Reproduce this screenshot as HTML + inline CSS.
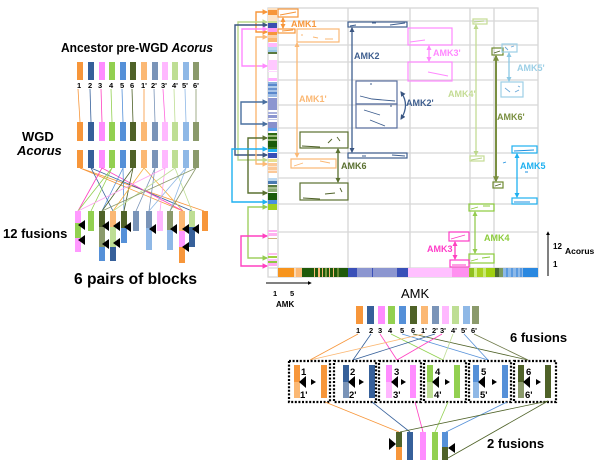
<!DOCTYPE html>
<html><head><meta charset="utf-8"><style>
html,body{margin:0;padding:0;background:#fff;}
svg{display:block;font-family:"Liberation Sans",Arial,sans-serif;}
</style></head><body>
<svg width="600" height="465" viewBox="0 0 600 465" xmlns="http://www.w3.org/2000/svg">
<defs>
<marker id="mO" viewBox="0 0 10 10" refX="8" refY="5" markerWidth="4" markerHeight="4" orient="auto-start-reverse"><path d="M0,0L10,5L0,10z" fill="#f7963a"/></marker>
<marker id="mLO" viewBox="0 0 10 10" refX="8" refY="5" markerWidth="4" markerHeight="4" orient="auto-start-reverse"><path d="M0,0L10,5L0,10z" fill="#fbb874"/></marker>
<marker id="mN" viewBox="0 0 10 10" refX="8" refY="5" markerWidth="4" markerHeight="4" orient="auto-start-reverse"><path d="M0,0L10,5L0,10z" fill="#3a5580"/></marker>
<marker id="mS" viewBox="0 0 10 10" refX="8" refY="5" markerWidth="4" markerHeight="4" orient="auto-start-reverse"><path d="M0,0L10,5L0,10z" fill="#4a70a0"/></marker>
<marker id="mP" viewBox="0 0 10 10" refX="8" refY="5" markerWidth="4" markerHeight="4" orient="auto-start-reverse"><path d="M0,0L10,5L0,10z" fill="#ff88ff"/></marker>
<marker id="mYG" viewBox="0 0 10 10" refX="8" refY="5" markerWidth="4" markerHeight="4" orient="auto-start-reverse"><path d="M0,0L10,5L0,10z" fill="#bcd88c"/></marker>
<marker id="mOl" viewBox="0 0 10 10" refX="8" refY="5" markerWidth="4" markerHeight="4" orient="auto-start-reverse"><path d="M0,0L10,5L0,10z" fill="#5a7030"/></marker>
<marker id="mOl2" viewBox="0 0 10 10" refX="8" refY="5" markerWidth="3" markerHeight="3" orient="auto-start-reverse"><path d="M0,0L10,5L0,10z" fill="#7a8f40"/></marker>
<marker id="mC" viewBox="0 0 10 10" refX="8" refY="5" markerWidth="4" markerHeight="4" orient="auto-start-reverse"><path d="M0,0L10,5L0,10z" fill="#1eb0f0"/></marker>
<marker id="mLB" viewBox="0 0 10 10" refX="8" refY="5" markerWidth="4" markerHeight="4" orient="auto-start-reverse"><path d="M0,0L10,5L0,10z" fill="#8cc8e4"/></marker>
<marker id="mG" viewBox="0 0 10 10" refX="8" refY="5" markerWidth="4" markerHeight="4" orient="auto-start-reverse"><path d="M0,0L10,5L0,10z" fill="#94cc50"/></marker>
<marker id="mM" viewBox="0 0 10 10" refX="8" refY="5" markerWidth="4" markerHeight="4" orient="auto-start-reverse"><path d="M0,0L10,5L0,10z" fill="#ff40c0"/></marker>
<marker id="mK" viewBox="0 0 10 10" refX="8" refY="5" markerWidth="4" markerHeight="4" orient="auto-start-reverse"><path d="M0,0L10,5L0,10z" fill="#000"/></marker>
</defs>

<!-- ================= LEFT PANEL ================= -->
<text x="61" y="52" font-size="12.5" font-weight="bold" textLength="152" lengthAdjust="spacingAndGlyphs">Ancestor pre-WGD <tspan font-style="italic">Acorus</tspan></text>

<!-- row 1 -->
<g>
<rect x="77" y="62" width="6" height="18" fill="#f7963a"/>
<rect x="88" y="62" width="6" height="18" fill="#36609a"/>
<rect x="99" y="62" width="6" height="18" fill="#ff8cff"/>
<rect x="109" y="62" width="6" height="18" fill="#92d050"/>
<rect x="120" y="62" width="6" height="18" fill="#5590d8"/>
<rect x="130" y="62" width="6" height="18" fill="#4f6228"/>
<rect x="141" y="62" width="6" height="18" fill="#fbb874"/>
<rect x="152" y="62" width="6" height="18" fill="#7a94b8"/>
<rect x="162" y="62" width="6" height="18" fill="#ffb8ff"/>
<rect x="172" y="62" width="6" height="18" fill="#bede94"/>
<rect x="183" y="62" width="6" height="18" fill="#8fb8e6"/>
<rect x="193" y="62" width="6" height="18" fill="#8b9a6b"/>
</g>
<g font-size="7.5" font-weight="bold">
<text x="77" y="88">1</text><text x="88" y="88">2</text><text x="98" y="88">3</text><text x="109" y="88">4</text><text x="120" y="88">5</text><text x="130" y="88">6</text><text x="141" y="88">1'</text><text x="151" y="88">2'</text><text x="161" y="88">3'</text><text x="172" y="88">4'</text><text x="182" y="88">5'</text><text x="193" y="88">6'</text>
</g>
<g stroke-width="0.8">
<line x1="78" y1="89" x2="80" y2="122" stroke="#f7963a"/>
<line x1="90" y1="89" x2="91" y2="122" stroke="#36609a"/>
<line x1="101" y1="89" x2="102" y2="122" stroke="#ff40c0"/>
<line x1="111" y1="89" x2="112" y2="122" stroke="#92d050"/>
<line x1="122" y1="89" x2="123" y2="122" stroke="#5590d8"/>
<line x1="132" y1="89" x2="133" y2="122" stroke="#4f6228"/>
<line x1="144" y1="89" x2="144" y2="122" stroke="#f7963a"/>
<line x1="154" y1="89" x2="155" y2="122" stroke="#7a94b8"/>
<line x1="163" y1="89" x2="165" y2="122" stroke="#ff66dd"/>
<line x1="174" y1="89" x2="175" y2="122" stroke="#bede94"/>
<line x1="185" y1="89" x2="186" y2="122" stroke="#8fb8e6"/>
<line x1="196" y1="89" x2="196" y2="122" stroke="#8b9a6b"/>
</g>

<!-- row 2 -->
<g>
<rect x="77" y="122" width="6" height="19" fill="#f7963a"/>
<rect x="88" y="122" width="6" height="19" fill="#36609a"/>
<rect x="99" y="122" width="6" height="19" fill="#ff8cff"/>
<rect x="109" y="122" width="6" height="19" fill="#92d050"/>
<rect x="120" y="122" width="6" height="19" fill="#5590d8"/>
<rect x="130" y="122" width="6" height="19" fill="#4f6228"/>
<rect x="141" y="122" width="6" height="19" fill="#fbb874"/>
<rect x="152" y="122" width="6" height="19" fill="#7a94b8"/>
<rect x="162" y="122" width="6" height="19" fill="#ffb8ff"/>
<rect x="172" y="122" width="6" height="19" fill="#bede94"/>
<rect x="183" y="122" width="6" height="19" fill="#8fb8e6"/>
<rect x="193" y="122" width="6" height="19" fill="#8b9a6b"/>
</g>
<text x="22" y="141" font-size="13" font-weight="bold">WGD</text>
<text x="17" y="155" font-size="13" font-weight="bold" font-style="italic">Acorus</text>

<!-- row 3 -->
<g>
<rect x="77" y="150" width="6" height="18" fill="#f7963a"/>
<rect x="88" y="150" width="6" height="18" fill="#36609a"/>
<rect x="99" y="150" width="6" height="18" fill="#ff8cff"/>
<rect x="109" y="150" width="6" height="18" fill="#92d050"/>
<rect x="120" y="150" width="6" height="18" fill="#5590d8"/>
<rect x="130" y="150" width="6" height="18" fill="#4f6228"/>
<rect x="141" y="150" width="6" height="18" fill="#fbb874"/>
<rect x="152" y="150" width="6" height="18" fill="#7a94b8"/>
<rect x="162" y="150" width="6" height="18" fill="#ffb8ff"/>
<rect x="172" y="150" width="6" height="18" fill="#bede94"/>
<rect x="183" y="150" width="6" height="18" fill="#8fb8e6"/>
<rect x="193" y="150" width="6" height="18" fill="#8b9a6b"/>
</g>

<!-- crossing lines row3 -> row4 -->
<g stroke-width="0.8">
<line x1="80" y1="168" x2="204" y2="211" stroke="#f7963a"/>
<line x1="80" y1="168" x2="183" y2="211" stroke="#f7963a"/>
<line x1="91" y1="168" x2="192" y2="211" stroke="#36609a"/>
<line x1="91" y1="168" x2="113" y2="211" stroke="#36609a"/>
<line x1="102" y1="168" x2="78" y2="211" stroke="#ff40c0"/>
<line x1="102" y1="168" x2="183" y2="211" stroke="#ff40c0"/>
<line x1="112" y1="168" x2="78" y2="211" stroke="#92d050"/>
<line x1="112" y1="168" x2="91" y2="211" stroke="#92d050"/>
<line x1="123" y1="168" x2="102" y2="211" stroke="#5590d8"/>
<line x1="123" y1="168" x2="124" y2="211" stroke="#5590d8"/>
<line x1="133" y1="168" x2="102" y2="211" stroke="#4f6228"/>
<line x1="133" y1="168" x2="124" y2="211" stroke="#4f6228"/>
<line x1="144" y1="168" x2="113" y2="211" stroke="#f7b040"/>
<line x1="144" y1="168" x2="183" y2="211" stroke="#f7b040"/>
<line x1="155" y1="168" x2="136" y2="211" stroke="#7a94b8"/>
<line x1="155" y1="168" x2="149" y2="211" stroke="#7a94b8"/>
<line x1="165" y1="168" x2="160" y2="211" stroke="#ffa0f0"/>
<line x1="165" y1="168" x2="78" y2="211" stroke="#ffa0f0"/>
<line x1="175" y1="168" x2="113" y2="211" stroke="#bede94"/>
<line x1="175" y1="168" x2="192" y2="211" stroke="#bede94"/>
<line x1="186" y1="168" x2="149" y2="211" stroke="#8fb8e6"/>
<line x1="186" y1="168" x2="170" y2="211" stroke="#8fb8e6"/>
<line x1="196" y1="168" x2="170" y2="211" stroke="#8b9a6b"/>
<line x1="196" y1="168" x2="102" y2="211" stroke="#8b9a6b"/>
</g>

<!-- row 4 (12 fusions) -->
<g>
<rect x="75" y="211" width="6" height="12" fill="#ff99ff"/><rect x="75" y="223" width="6" height="15" fill="#92d050"/><rect x="75" y="238" width="6" height="14" fill="#ff99ff"/>
<rect x="88" y="211" width="6" height="20" fill="#92d050"/>
<rect x="99" y="211" width="6" height="16" fill="#4f6228"/><rect x="99" y="227" width="6" height="20" fill="#8b9a6b"/><rect x="99" y="247" width="6" height="14" fill="#5590d8"/>
<rect x="110" y="211" width="6" height="16" fill="#fbb874"/><rect x="110" y="227" width="6" height="20" fill="#bede94"/><rect x="110" y="247" width="6" height="14" fill="#36609a"/>
<rect x="121" y="211" width="6" height="17" fill="#4f6228"/><rect x="121" y="228" width="6" height="15" fill="#5590d8"/>
<rect x="133" y="211" width="6" height="20" fill="#7a94b8"/>
<rect x="146" y="211" width="6" height="17" fill="#7a94b8"/><rect x="146" y="228" width="6" height="22" fill="#8fb8e6"/>
<rect x="157" y="211" width="6" height="20" fill="#ffb8ff"/>
<rect x="167" y="211" width="6" height="19" fill="#8b9a6b"/><rect x="167" y="230" width="6" height="20" fill="#8fb8e6"/>
<rect x="179" y="211" width="6" height="20" fill="#fbb874"/><rect x="179" y="231" width="6" height="16" fill="#ff99ff"/><rect x="179" y="247" width="6" height="16" fill="#f7963a"/>
<rect x="189" y="211" width="6" height="16" fill="#bede94"/><rect x="189" y="227" width="6" height="20" fill="#36609a"/>
<rect x="202" y="211" width="6" height="20" fill="#f7963a"/>
</g>
<g fill="#000">
<polygon points="78,225 85,220 85,230"/><polygon points="78,240 85,235 85,245"/>
<polygon points="102,226 109,221 109,231"/><polygon points="102,244 109,239 109,249"/>
<polygon points="113,226 120,221 120,231"/><polygon points="113,243 120,238 120,248"/>
<polygon points="124,227 131,222 131,232"/>
<polygon points="149,229 156,224 156,234"/>
<polygon points="170,229 177,224 177,234"/>
<polygon points="182,229 189,224 189,234"/><polygon points="182,247 189,242 189,252"/>
<polygon points="192,229 199,224 199,234"/>
</g>
<text x="3" y="238" font-size="13" font-weight="bold">12 fusions</text>
<text x="74" y="284" font-size="15.5" font-weight="bold" textLength="123" lengthAdjust="spacingAndGlyphs">6 pairs of blocks</text>

<!-- ================= DOT PLOT ================= -->
<!-- grid -->
<g stroke="#d6d6d6" stroke-width="1.3" fill="none">
<rect x="268" y="8" width="270" height="269"/>
<line x1="278" y1="8" x2="278" y2="277"/>
<line x1="348" y1="8" x2="348" y2="268"/>
<line x1="410" y1="8" x2="410" y2="268"/>
<line x1="470" y1="8" x2="470" y2="268"/>
<line x1="494" y1="8" x2="494" y2="268"/>
<line x1="278" y1="21" x2="538" y2="21"/>
<line x1="278" y1="45" x2="538" y2="45"/>
<line x1="278" y1="62" x2="538" y2="62"/>
<line x1="278" y1="80" x2="538" y2="80"/>
<line x1="278" y1="105" x2="538" y2="105"/>
<line x1="278" y1="128" x2="538" y2="128"/>
<line x1="278" y1="153" x2="538" y2="153"/>
<line x1="278" y1="178" x2="538" y2="178"/>
<line x1="278" y1="204" x2="538" y2="204"/>
<line x1="278" y1="232" x2="538" y2="232"/>
<line x1="268" y1="268" x2="538" y2="268"/>
</g>

<!-- left colour bar -->
<g>
<rect x="268" y="8" width="9" height="2" fill="#fde0c0"/>
<rect x="268" y="10" width="9" height="5" fill="#f7963a"/>
<rect x="268" y="15" width="9" height="6" fill="#fde4c8"/>
<rect x="268" y="21" width="9" height="2" fill="#c8e090"/>
<rect x="268" y="23" width="9" height="5" fill="#3a50b0"/>
<rect x="268" y="28" width="9" height="4" fill="#ff99ee"/>
<rect x="268" y="32" width="9" height="3" fill="#f7963a"/>
<rect x="268" y="35" width="9" height="3" fill="#fcd0a8"/>
<rect x="268" y="38" width="9" height="4" fill="#fbb874"/>
<rect x="268" y="43" width="9" height="4" fill="#ffb8ff"/>
<rect x="268" y="47" width="9" height="3" fill="#b8d8f0"/>
<rect x="268" y="50" width="9" height="2" fill="#9cc8e8"/>
<rect x="268" y="52" width="9" height="2" fill="#5a7a40"/>
<rect x="268" y="60" width="9" height="10" fill="#ffc8ff"/>
<rect x="268" y="71" width="9" height="1" fill="#ffd8ff"/>
<rect x="268" y="78" width="9" height="3" fill="#ffb0ff"/>
<rect x="268" y="82" width="9" height="2" fill="#8cb0e0"/>
<rect x="268" y="84" width="9" height="2" fill="#5a88cc"/>
<rect x="268" y="86" width="9" height="2" fill="#b0cceb"/>
<rect x="268" y="88" width="9" height="2" fill="#6a94d0"/>
<rect x="268" y="90" width="9" height="2" fill="#a8c4e8"/>
<rect x="268" y="92" width="9" height="2" fill="#5a88cc"/>
<rect x="268" y="94" width="9" height="3" fill="#9cbce6"/>
<rect x="268" y="98" width="9" height="12" fill="#8c96d0"/>
<rect x="268" y="112" width="9" height="2" fill="#a8b0dc"/>
<rect x="268" y="115" width="9" height="3" fill="#8c96d0"/>
<rect x="268" y="119" width="9" height="1" fill="#c0c8e8"/>
<rect x="268" y="122" width="9" height="6" fill="#8890cc"/>
<rect x="268" y="128" width="9" height="3" fill="#5aa0e8"/>
<rect x="268" y="133" width="9" height="2" fill="#2e6a10"/>
<rect x="268" y="135" width="9" height="2" fill="#98b878"/>
<rect x="268" y="137" width="9" height="2" fill="#2e6a10"/>
<rect x="268" y="139" width="9" height="2" fill="#98b878"/>
<rect x="268" y="141" width="9" height="6" fill="#1a5a0a"/>
<rect x="268" y="147" width="9" height="2" fill="#3a7a20"/>
<rect x="268" y="149" width="9" height="3" fill="#20b0f0"/>
<rect x="268" y="153" width="9" height="5" fill="#3850b8"/>
<rect x="268" y="159" width="9" height="3" fill="#e8e090"/>
<rect x="268" y="163" width="9" height="10" fill="#fbc898"/>
<rect x="268" y="166" width="9" height="1" fill="#fde6d0"/>
<rect x="268" y="170" width="9" height="1" fill="#fde6d0"/>
<rect x="268" y="178" width="9" height="3" fill="#bcd8f0"/>
<rect x="268" y="181" width="9" height="3" fill="#4a7ab0"/>
<rect x="268" y="185" width="9" height="2" fill="#5a7a40"/>
<rect x="268" y="187" width="9" height="2" fill="#a8c090"/>
<rect x="268" y="189" width="9" height="3" fill="#88a870"/>
<rect x="268" y="193" width="9" height="7" fill="#1a5a0a"/>
<rect x="268" y="200" width="9" height="4" fill="#4a90e0"/>
<rect x="268" y="204" width="9" height="6" fill="#a0d020"/>
<rect x="268" y="230" width="9" height="2" fill="#ffb0f0"/>
<rect x="268" y="233" width="9" height="3" fill="#ffb0f0"/>
<rect x="268" y="238" width="9" height="1" fill="#d0b080"/>
<rect x="268" y="253" width="9" height="2" fill="#ffc0f0"/>
<rect x="268" y="256" width="9" height="2" fill="#a0d040"/>
<rect x="268" y="259" width="9" height="2" fill="#ffc0ff"/>
<rect x="268" y="261" width="9" height="2" fill="#90c840"/>
<rect x="268" y="263" width="9" height="3" fill="#ffa8f0"/>
</g>

<!-- bottom colour bar -->
<g>
<rect x="278" y="268" width="16" height="9" fill="#f7941d"/>
<rect x="294" y="268" width="2" height="9" fill="#fcd8b0"/>
<rect x="296" y="268" width="6" height="9" fill="#fbb874"/>
<rect x="302" y="268" width="46" height="9" fill="#1f5a0a"/>
<rect x="314" y="268" width="1" height="9" fill="#fbb874"/>
<rect x="318" y="268" width="2" height="9" fill="#fbb874"/>
<rect x="322" y="268" width="1" height="9" fill="#fbb874"/>
<rect x="325" y="268" width="2" height="9" fill="#7a9a40"/>
<rect x="329" y="268" width="1" height="9" fill="#fbb874"/>
<rect x="333" y="268" width="1" height="9" fill="#fbb874"/>
<rect x="337" y="268" width="2" height="9" fill="#6a8a30"/>
<rect x="348" y="268" width="9" height="9" fill="#3a50b8"/>
<rect x="357" y="268" width="40" height="9" fill="#8c96d0"/>
<rect x="372" y="268" width="1" height="9" fill="#3a50b8"/>
<rect x="397" y="268" width="11" height="9" fill="#3850b8"/>
<rect x="408" y="268" width="44" height="9" fill="#ffc0ff"/>
<rect x="452" y="268" width="17" height="9" fill="#ff90f0"/>
<rect x="469" y="268" width="5" height="9" fill="#90c020"/>
<rect x="474" y="268" width="3" height="9" fill="#d0f080"/>
<rect x="477" y="268" width="6" height="9" fill="#a8d020"/>
<rect x="483" y="268" width="3" height="9" fill="#c8e870"/>
<rect x="486" y="268" width="9" height="9" fill="#a0d010"/>
<rect x="495" y="268" width="4" height="9" fill="#4a6a30"/>
<rect x="499" y="268" width="4" height="9" fill="#7a9a60"/>
<rect x="503" y="268" width="20" height="9" fill="#8cb8e8"/>
<rect x="506" y="268" width="2" height="9" fill="#5a9ae0"/>
<rect x="511" y="268" width="2" height="9" fill="#5a9ae0"/>
<rect x="516" y="268" width="2" height="9" fill="#5a9ae0"/>
<rect x="520" y="268" width="2" height="9" fill="#5a9ae0"/>
<rect x="523" y="268" width="15" height="9" fill="#2a88e0"/>
</g>

<!-- left bracket arrows -->
<g fill="none" stroke-width="1.4">
<path d="M267,12 H256 V32 H267" stroke="#f7963a" marker-start="url(#mO)" marker-end="url(#mO)"/>
<path d="M267,22 H238 V160 H267" stroke="#bcd88c" marker-start="url(#mYG)" marker-end="url(#mYG)"/>
<path d="M267,25 H235 V155 H267" stroke="#3a5580" marker-start="url(#mN)" marker-end="url(#mN)"/>
<path d="M267,29 H242 V66 H267" stroke="#ff88ff" marker-start="url(#mP)" marker-end="url(#mP)"/>
<path d="M267,37 H256 V164 H267" stroke="#fbb874" marker-start="url(#mLO)" marker-end="url(#mLO)"/>
<path d="M267,102 H241 V124 H267" stroke="#4a70a0" marker-start="url(#mS)" marker-end="url(#mS)"/>
<path d="M267,138 H248 V193 H267" stroke="#5a7030" marker-start="url(#mOl)" marker-end="url(#mOl)"/>
<path d="M267,149 H232 V202 H267" stroke="#1eb0f0" marker-start="url(#mC)" marker-end="url(#mC)"/>
<path d="M267,207 H248 V258 H267" stroke="#a0d060" marker-start="url(#mG)" marker-end="url(#mG)"/>
<path d="M267,236 H241 V266 H267" stroke="#ff40c0" marker-start="url(#mM)" marker-end="url(#mM)"/>
</g>

<!-- dot plot boxes -->
<g fill="none" stroke-width="1.2">
<rect x="278" y="9" width="20" height="8" stroke="#f7963a"/>
<rect x="278" y="29" width="17" height="4" stroke="#f7963a"/>
<rect x="297" y="29" width="42" height="13" stroke="#fbb874"/>
<rect x="291" y="159" width="45" height="9" stroke="#fbb874"/>
<rect x="348" y="22" width="59" height="5" stroke="#3f5f8f"/>
<rect x="348" y="153" width="59" height="5" stroke="#3f5f8f"/>
<rect x="356" y="81" width="41" height="23" stroke="#5a70a0"/>
<rect x="356" y="104" width="41" height="24" stroke="#5a70a0"/>
<rect x="300" y="132" width="48" height="16" stroke="#5a7030"/>
<rect x="300" y="183" width="48" height="17" stroke="#5a7030"/>
<rect x="408" y="28" width="44" height="17" stroke="#ff88ff"/>
<rect x="408" y="62" width="44" height="19" stroke="#ff88ff"/>
<rect x="473" y="19" width="14" height="5" stroke="#c4dc94"/>
<rect x="470" y="156" width="14" height="5" stroke="#c4dc94"/>
<rect x="492" y="48" width="11" height="7" stroke="#6f8a30"/>
<rect x="493" y="182" width="10" height="6" stroke="#6f8a30"/>
<rect x="502" y="44" width="15" height="8" stroke="#9ccfe6"/>
<rect x="501" y="82" width="22" height="15" stroke="#9ccfe6"/>
<rect x="512" y="146" width="25" height="7" stroke="#1eb0f0"/>
<rect x="512" y="198" width="25" height="6" stroke="#1eb0f0"/>
<rect x="469" y="204" width="25" height="7" stroke="#8ccc3c"/>
<rect x="469" y="254" width="25" height="9" stroke="#8ccc3c"/>
<rect x="449" y="232" width="20" height="9" stroke="#ff3cc8"/>
<rect x="450" y="260" width="19" height="7" stroke="#ff3cc8"/>
</g>
<!-- scattered dots -->
<g stroke-width="0.9" fill="none">
<path d="M280,15 L296,12 M282,31 L293,30" stroke="#f7963a"/>
<path d="M313,37 L318,38 M325,39 L333,39 M301,35 L303,35" stroke="#fbb874"/>
<path d="M294,166 L303,163 M320,161 L330,163" stroke="#fbb874"/>
<path d="M350,26 L356,25 M372,23 L376,23 M390,25 L405,23 M362,156 L366,156 M392,155 L405,156" stroke="#3f5f8f"/>
<path d="M360,96 L372,99 L395,101 M370,84 L372,84 M364,110 L380,115 M370,120 L385,126 M390,106 L392,106" stroke="#3f5f8f"/>
<path d="M302,146 L320,147 M328,143 L332,139 M337,137 L340,141 M303,198 L320,199 M325,194 L335,193 M340,188 L342,192" stroke="#4f6228"/>
<path d="M410,42 L425,40 M428,72 L448,76" stroke="#ff88ff"/>
<path d="M474,22 L484,21 M471,160 L482,158" stroke="#b8d488"/>
<path d="M494,53 L500,51 M495,186 L501,184" stroke="#4f6228"/>
<path d="M505,47 L508,50 M511,47 L514,46 M505,88 L510,92 M515,92 L519,90 M518,86 L520,87" stroke="#6aa8d8"/>
<path d="M514,151 L534,150 M514,202 L530,202 M503,163 L506,162 M525,172 L528,172" stroke="#1e90e0"/>
<path d="M471,209 L478,207 M483,206 L490,206 M471,261 L478,259 M482,258 L490,257" stroke="#8ccc3c"/>
<path d="M451,239 L465,235 M452,265 L466,265" stroke="#ff3cc8"/>
</g>

<!-- dot plot double arrows -->
<g stroke-width="1.3" fill="none">
<line x1="283" y1="18" x2="283" y2="28" stroke="#f7963a" marker-start="url(#mO)" marker-end="url(#mO)"/>
<line x1="297" y1="43" x2="297" y2="157" stroke="#fbb874" marker-start="url(#mLO)" marker-end="url(#mLO)"/>
<line x1="352" y1="28" x2="352" y2="152" stroke="#3f5f8f" marker-start="url(#mN)" marker-end="url(#mN)"/>
<path d="M401,92 Q410,105 401,119" stroke="#3f5f8f" marker-start="url(#mN)" marker-end="url(#mN)"/>
<line x1="338" y1="149" x2="338" y2="182" stroke="#5a7030" marker-start="url(#mOl)" marker-end="url(#mOl)"/>
<line x1="429" y1="46" x2="429" y2="61" stroke="#ff88ff" marker-start="url(#mP)" marker-end="url(#mP)"/>
<line x1="476" y1="25" x2="476" y2="155" stroke="#c4dc94" marker-start="url(#mYG)" marker-end="url(#mYG)"/>
<line x1="496" y1="56" x2="496" y2="181" stroke="#7a8f40" stroke-width="2" marker-start="url(#mOl2)" marker-end="url(#mOl2)"/>
<line x1="509" y1="53" x2="509" y2="81" stroke="#8cc8e4" marker-start="url(#mLB)" marker-end="url(#mLB)"/>
<line x1="517" y1="154" x2="517" y2="197" stroke="#1eb0f0" marker-start="url(#mC)" marker-end="url(#mC)"/>
<line x1="475" y1="212" x2="475" y2="253" stroke="#94cc50" marker-start="url(#mG)" marker-end="url(#mG)"/>
<line x1="455" y1="242" x2="455" y2="259" stroke="#ff40c0" marker-start="url(#mM)" marker-end="url(#mM)"/>
</g>

<!-- dot plot labels -->
<g font-size="9" font-weight="bold">
<text x="291" y="27" fill="#f7963a">AMK1</text>
<text x="354" y="59" fill="#3f5f8f">AMK2</text>
<text x="299" y="102" fill="#fbb874">AMK1'</text>
<text x="406" y="106" fill="#3f5f8f">AMK2'</text>
<text x="341" y="169" fill="#5a7030">AMK6</text>
<text x="433" y="56" fill="#ff88ff">AMK3'</text>
<text x="448" y="97" fill="#c4dc94">AMK4'</text>
<text x="517" y="71" fill="#9ccfe6">AMK5'</text>
<text x="497" y="120" fill="#7a8f40">AMK6'</text>
<text x="520" y="169" fill="#1eb0f0">AMK5</text>
<text x="484" y="241" fill="#8ccc3c">AMK4</text>
<text x="427" y="252" fill="#ff3cc8">AMK3</text>
</g>

<!-- axes annotations -->
<line x1="548" y1="276" x2="548" y2="232" stroke="#000" stroke-width="1" marker-end="url(#mK)"/>
<text x="553" y="249" font-size="8" font-weight="bold">12</text>
<text x="553" y="267" font-size="8" font-weight="bold">1</text>
<text x="565" y="254" font-size="8.5" font-weight="bold">Acorus</text>
<line x1="266" y1="283" x2="311" y2="283" stroke="#000" stroke-width="1" marker-end="url(#mK)"/>
<text x="273" y="296" font-size="7.5" font-weight="bold">1</text>
<text x="290" y="296" font-size="7.5" font-weight="bold">5</text>
<text x="276" y="307" font-size="8" font-weight="bold">AMK</text>

<!-- ================= BOTTOM AMK PANEL ================= -->
<text x="401" y="298" font-size="13">AMK</text>
<g>
<rect x="356" y="306" width="7" height="18" fill="#f7963a"/>
<rect x="367" y="306" width="7" height="18" fill="#36609a"/>
<rect x="378" y="306" width="7" height="18" fill="#ff8cff"/>
<rect x="388" y="306" width="7" height="18" fill="#92d050"/>
<rect x="399" y="306" width="7" height="18" fill="#5590d8"/>
<rect x="410" y="306" width="7" height="18" fill="#4f6228"/>
<rect x="421" y="306" width="7" height="18" fill="#fbb874"/>
<rect x="432" y="306" width="7" height="18" fill="#7a94b8"/>
<rect x="442" y="306" width="7" height="18" fill="#ffb8ff"/>
<rect x="452" y="306" width="7" height="18" fill="#bede94"/>
<rect x="463" y="306" width="7" height="18" fill="#8fb8e6"/>
<rect x="472" y="306" width="7" height="18" fill="#8b9a6b"/>
</g>
<g font-size="7.5" font-weight="bold">
<text x="356" y="333">1</text><text x="369" y="333">2</text><text x="378" y="333">3</text><text x="388" y="333">4</text><text x="400" y="333">5</text><text x="411" y="333">6</text><text x="421" y="333">1'</text><text x="432" y="333">2'</text><text x="440" y="333">3'</text><text x="451" y="333">4'</text><text x="461" y="333">5'</text><text x="471" y="333">6'</text>
</g>
<text x="510" y="342" font-size="13" font-weight="bold">6 fusions</text>

<g stroke-width="0.8">
<line x1="358" y1="334" x2="310" y2="360" stroke="#f7963a"/>
<line x1="371" y1="334" x2="353" y2="360" stroke="#36609a"/>
<line x1="380" y1="334" x2="397" y2="360" stroke="#ff40c0"/>
<line x1="391" y1="334" x2="443" y2="360" stroke="#92d050"/>
<line x1="402" y1="334" x2="488" y2="360" stroke="#5590d8"/>
<line x1="413" y1="334" x2="528" y2="360" stroke="#4f6228"/>
<line x1="423" y1="334" x2="310" y2="360" stroke="#fbb874"/>
<line x1="435" y1="334" x2="353" y2="360" stroke="#36609a"/>
<line x1="442" y1="334" x2="397" y2="360" stroke="#ff40c0"/>
<line x1="453" y1="334" x2="443" y2="360" stroke="#bede94"/>
<line x1="464" y1="334" x2="488" y2="360" stroke="#5590d8"/>
<line x1="474" y1="334" x2="528" y2="360" stroke="#6f7a4a"/>
</g>

<!-- fusion boxes -->
<g>
<!-- box1 -->
<rect x="294" y="365" width="6" height="17" fill="#f7963a"/><rect x="294" y="382" width="6" height="16" fill="#fbb874"/>
<rect x="321" y="365" width="6" height="33" fill="#f7963a"/>
<!-- box2 -->
<rect x="343" y="365" width="6" height="17" fill="#36609a"/><rect x="343" y="382" width="6" height="16" fill="#7a94b8"/>
<rect x="369" y="365" width="6" height="33" fill="#36609a"/>
<!-- box3 -->
<rect x="386" y="365" width="6" height="17" fill="#ff8cff"/><rect x="386" y="382" width="6" height="16" fill="#ffb8ff"/>
<rect x="410" y="365" width="6" height="33" fill="#ff8cff"/>
<!-- box4 -->
<rect x="427" y="365" width="6" height="17" fill="#92d050"/><rect x="427" y="382" width="6" height="16" fill="#bede94"/>
<rect x="454" y="365" width="6" height="33" fill="#92d050"/>
<!-- box5 -->
<rect x="473" y="365" width="6" height="17" fill="#5590d8"/><rect x="473" y="382" width="6" height="16" fill="#8fb8e6"/>
<rect x="502" y="365" width="6" height="33" fill="#5590d8"/>
<!-- box6 -->
<rect x="518" y="365" width="6" height="17" fill="#4f6228"/><rect x="518" y="382" width="6" height="16" fill="#8b9a6b"/>
<rect x="545" y="365" width="6" height="33" fill="#4f6228"/>
</g>
<g fill="#000">
<polygon points="299,382 306,376 306,388"/><polygon points="316,382 311,379 311,385"/>
<polygon points="348,382 355,376 355,388"/><polygon points="364,382 359,379 359,385"/>
<polygon points="391,382 398,376 398,388"/><polygon points="406,382 401,379 401,385"/>
<polygon points="432,382 439,376 439,388"/><polygon points="450,382 445,379 445,385"/>
<polygon points="478,382 485,376 485,388"/><polygon points="497,382 492,379 492,385"/>
<polygon points="523,382 530,376 530,388"/><polygon points="541,382 536,379 536,385"/>
</g>
<g font-size="9.5" font-weight="bold">
<text x="301" y="375">1</text><text x="300" y="398">1'</text>
<text x="350" y="375">2</text><text x="349" y="398">2'</text>
<text x="394" y="375">3</text><text x="393" y="398">3'</text>
<text x="435" y="375">4</text><text x="434" y="398">4'</text>
<text x="481" y="375">5</text><text x="480" y="398">5'</text>
<text x="526" y="375">6</text><text x="525" y="398">6'</text>
</g>
<g fill="none" stroke="#000" stroke-width="2.2" stroke-dasharray="2 1.6">
<rect x="289" y="361" width="41" height="41"/>
<rect x="334" y="361" width="42" height="41"/>
<rect x="379" y="361" width="42" height="41"/>
<rect x="424" y="361" width="42" height="41"/>
<rect x="469" y="361" width="42" height="41"/>
<rect x="514" y="361" width="42" height="41"/>
</g>

<!-- lines to final -->
<g stroke-width="0.8">
<line x1="325" y1="402" x2="399" y2="432" stroke="#f7963a"/>
<line x1="372" y1="402" x2="410" y2="432" stroke="#36609a"/>
<line x1="415" y1="402" x2="423" y2="432" stroke="#ff40c0"/>
<line x1="448" y1="402" x2="435" y2="432" stroke="#92d050"/>
<line x1="507" y1="402" x2="446" y2="432" stroke="#5590d8"/>
<line x1="548" y1="401" x2="400" y2="432" stroke="#4f6228"/>
<line x1="548" y1="401" x2="448" y2="458" stroke="#4f6228"/>
</g>
<g>
<rect x="396" y="432" width="6" height="15" fill="#4f6228"/><rect x="396" y="447" width="6" height="13" fill="#f7963a"/>
<rect x="407" y="432" width="6" height="28" fill="#36609a"/>
<rect x="420" y="432" width="6" height="28" fill="#ff8cff"/>
<rect x="432" y="432" width="6" height="28" fill="#92d050"/>
<rect x="442" y="432" width="6" height="15" fill="#5590d8"/><rect x="442" y="447" width="6" height="13" fill="#4f6228"/>
</g>
<g fill="#000">
<polygon points="396,444 389,438 389,450"/>
<polygon points="448,448 455,443 455,453"/>
</g>
<text x="487" y="448" font-size="13" font-weight="bold">2 fusions</text>
</svg>
</body></html>
